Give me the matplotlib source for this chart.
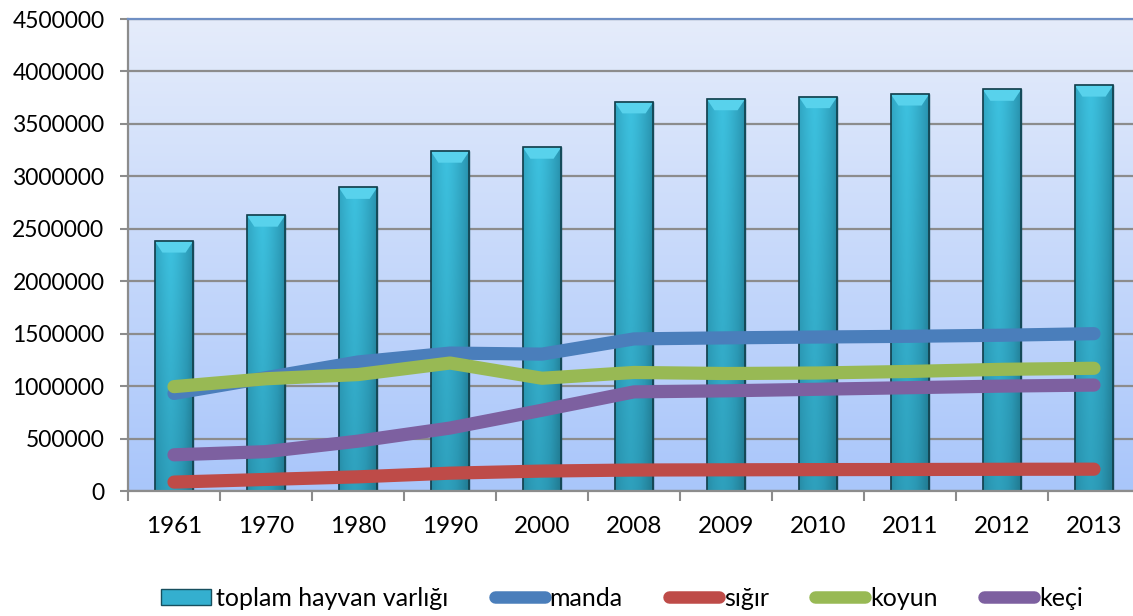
import numpy as np
import matplotlib
matplotlib.use("Agg")
import matplotlib.pyplot as plt
from matplotlib.colors import LinearSegmentedColormap
from matplotlib.patches import Patch, Polygon
from matplotlib.lines import Line2D

# -----------------------------
# Data
# -----------------------------
years = ["1961", "1970", "1980", "1990", "2000", "2008", "2009", "2010", "2011", "2012", "2013"]
toplam = [2383000, 2630000, 2895000, 3240000, 3278000, 3710000, 3740000, 3760000, 3785000, 3830000, 3870000]
manda = [930000, 1080000, 1230000, 1315000, 1305000, 1450000, 1460000, 1468000, 1475000, 1485000, 1500000]
sigir = [85000, 110000, 135000, 170000, 190000, 200000, 202000, 204000, 205000, 207000, 208000]
koyun = [995000, 1070000, 1110000, 1220000, 1075000, 1130000, 1120000, 1125000, 1140000, 1160000, 1170000]
keci = [345000, 375000, 475000, 600000, 770000, 945000, 955000, 970000, 985000, 1000000, 1010000]

series = [
    ("manda", manda, "#4a7ebb"),
    ("sığır", sigir, "#be4b48"),
    ("koyun", koyun, "#98b954"),
    ("keçi", keci, "#7d60a0"),
]

plt.rcParams["font.family"] = ["Lato", "DejaVu Sans"]

fig = plt.figure(figsize=(11.33, 6.16), dpi=100)
ax = fig.add_axes([128 / 1133, 125 / 616, 1012 / 1133, 472 / 616])

x = np.arange(len(years))

# -----------------------------
# Background gradient
# -----------------------------
bg = LinearSegmentedColormap.from_list("bg", ["#a9c6fa", "#e5ecfb"])
ax.imshow(np.linspace(0, 1, 256).reshape(-1, 1), cmap=bg, origin="lower",
          extent=(0, 1, 0, 1), transform=ax.transAxes, aspect="auto", zorder=0)

# -----------------------------
# Bars with shading
# -----------------------------
bw = 0.42
bars = ax.bar(x, toplam, width=bw, color="#34afcf", edgecolor="#174f5e",
              linewidth=1.0, zorder=2)
hx = np.linspace(0, 1, 64)
shade = 1 - 0.6 * np.abs(hx - 0.4) ** 1.4 / 0.6 ** 1.4
vy = np.linspace(0, 1, 128).reshape(-1, 1)
bar_cmap = LinearSegmentedColormap.from_list("bar", ["#16596a", "#2b98b4", "#3dc1df"])
for b, v in zip(bars, toplam):
    x0 = b.get_x()
    img = np.clip(shade[None, :] * (0.6 + 0.4 * vy), 0, 1)
    im = ax.imshow(img, cmap=bar_cmap, vmin=0, vmax=1, origin="lower",
                   extent=(x0, x0 + bw, 0, v), aspect="auto", zorder=2.1)
    im.set_clip_path(b)
    # top bevel
    bev = 110000
    ax.add_patch(Polygon([[x0, v], [x0 + bw, v], [x0 + bw * 0.8, v - bev],
                          [x0 + bw * 0.2, v - bev]], closed=True,
                         facecolor="#58d2ec", edgecolor="none", zorder=2.2))
    ax.add_patch(plt.Rectangle((x0, 0), bw, v, facecolor="none",
                               edgecolor="#123f4b", linewidth=1.2, zorder=2.3))

# -----------------------------
# Lines
# -----------------------------
for name, vals, col in series:
    ax.plot(x, vals, color=col, linewidth=9.5, solid_capstyle="round",
            solid_joinstyle="round", zorder=3)

# -----------------------------
# Axes styling
# -----------------------------
ax.set_xlim(-0.5, len(years) - 0.5)
ax.set_ylim(0, 4500000)
ax.set_yticks(np.arange(0, 4500001, 500000))
ax.set_yticklabels([str(v) for v in range(0, 4500001, 500000)])
ax.yaxis.grid(True, color="#8c8c8c", linewidth=1.6, zorder=1)
ax.set_axisbelow(True)
ax.set_xticks(x)
ax.set_xticklabels(years)
ax.set_xticks(np.arange(-0.5, len(years), 1), minor=True)
ax.tick_params(axis="x", which="major", length=0, pad=18, labelsize=17.5)
ax.tick_params(axis="x", which="minor", length=7, width=1.5, color="#8c8c8c", direction="out")
ax.tick_params(axis="y", length=6, width=1.5, color="#8c8c8c", pad=11, labelsize=16.5)
for s in ["left", "bottom"]:
    ax.spines[s].set_color("#8c8c8c")
    ax.spines[s].set_linewidth(1.6)
ax.spines["right"].set_visible(False)
ax.spines["top"].set_color("#6f8fc4")
ax.spines["top"].set_linewidth(1.6)

# -----------------------------
# Legend
# -----------------------------
handles = [Patch(facecolor="#34afcf", edgecolor="#174f5e", label="toplam hayvan varlığı")]
for name, vals, col in series:
    handles.append(Line2D([0], [0], color=col, linewidth=9,
                          solid_capstyle="round", label=name))
fig.legend(handles=handles, loc="center", bbox_to_anchor=(0.549, 1 - 598 / 616),
           ncol=5, frameon=False, fontsize=18, handlelength=2.0,
           handletextpad=0.2, columnspacing=1.85, handleheight=0.6)

fig.savefig("out.png", dpi=100)
